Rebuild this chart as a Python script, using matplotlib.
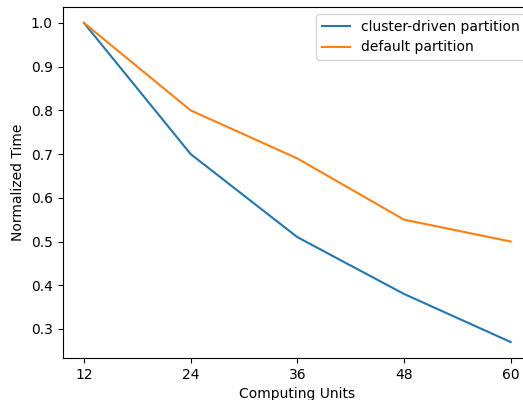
import matplotlib
matplotlib.use("Agg")
import matplotlib.pyplot as plt

units = [12, 24, 36, 48, 60]
cluster_driven = [1.0, 0.70, 0.51, 0.38, 0.27]
default_part = [1.0, 0.80, 0.69, 0.55, 0.50]

fig = plt.figure(figsize=(5.23, 4.0), dpi=100)
ax = fig.add_axes([0.1198, 0.105, 0.8975, 0.8775])
ax.plot(units, cluster_driven, color="#1f77b4", label="cluster-driven partition")
ax.plot(units, default_part, color="#ff7f0e", label="default partition")
ax.set_xticks(units)
ax.set_xlabel("Computing Units")
ax.set_ylabel("Normalized Time")
ax.legend(loc="upper right")
fig.savefig("out.png", dpi=100)
